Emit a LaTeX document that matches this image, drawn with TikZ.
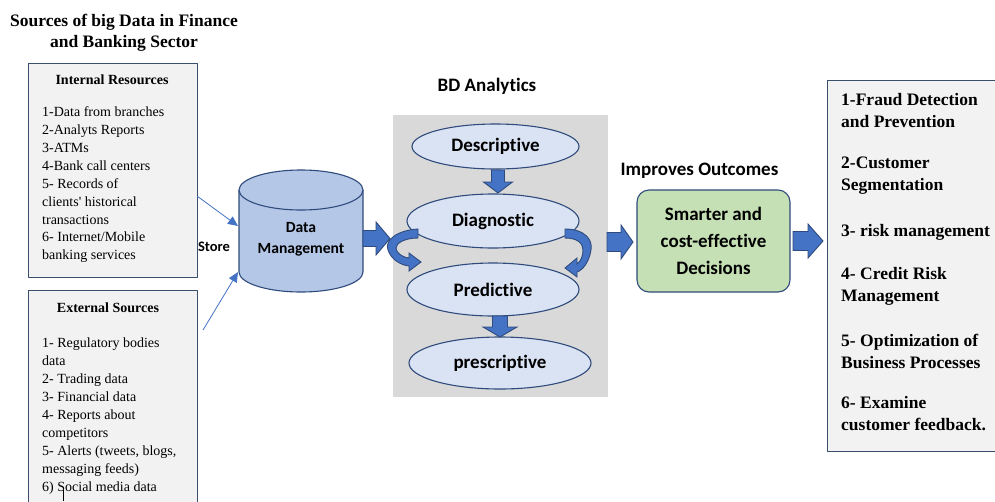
\documentclass[tikz,border=0pt]{standalone}
\usepackage{fontspec}
\setmainfont{Liberation Serif}[Ligatures=TeXOff]
\newfontfamily\calib[Ligatures={NoCommon,NoRare,NoContextual}]{Carlito}
\usetikzlibrary{arrows.meta,shapes.geometric}
\definecolor{boxfill}{HTML}{F2F2F2}
\definecolor{boxline}{HTML}{3B4E6B}
\definecolor{shapeline}{HTML}{2F4B7C}
\definecolor{arrowblue}{HTML}{4472C4}
\definecolor{ellfill}{HTML}{DAE3F3}
\definecolor{cylfill}{HTML}{B4C7E7}
\definecolor{greenfill}{HTML}{C5E0B4}
\definecolor{grayfill}{HTML}{D9D9D9}
% tail x, tail y, angle, length, head length, shaft half width, head half width
\newcommand\blockarrow[7]{\draw[barrow, shift={(#1,#2)}, rotate=#3] (0,-#6) -- ({#4-#5},-#6) -- ({#4-#5},-#7) -- (#4,0) -- ({#4-#5},#7) -- ({#4-#5},#6) -- (0,#6) -- cycle;}
\tikzset{
  srcbox/.style={draw=boxline, fill=boxfill, line width=1.1pt, inner sep=0pt, anchor=north west},
  itemtxt/.style={anchor=base west, inner sep=0pt, font=\fontsize{14}{18}\selectfont},
  boxtitle/.style={inner sep=0pt, font=\bfseries\fontsize{14}{18}\selectfont},
  outtxt/.style={anchor=west, inner sep=0pt, align=left, font=\bfseries\fontsize{17.5}{22}\selectfont},
  sanslabel/.style={inner sep=0pt, font=\calib\bfseries\fontsize{19}{23}\selectfont},
  ell/.style={ellipse, draw=shapeline, fill=ellfill, line width=1.1pt, inner sep=0pt, font=\calib\bfseries\fontsize{19}{23}\selectfont},
  barrow/.style={draw=shapeline, fill=arrowblue, line width=0.9pt, line join=miter},
  thinarrow/.style={draw=arrowblue, line width=0.8pt, -{Triangle[length=10pt,width=9pt]}},
}
\begin{document}
\begin{tikzpicture}[x=1pt, y=-1pt, line join=round]
\useasboundingbox (0,0) rectangle (995,501);
\fill[white] (0,0) rectangle (995,501);

% title
\node[align=center, inner sep=0pt, font=\bfseries\fontsize{17.5}{21}\selectfont] (title) at (124,32.5) {Sources of big Data in Finance\\and Banking Sector};

% internal resources box
\node[srcbox, minimum width=169pt, minimum height=214pt] (intbox) at (28,63) {};
\node[boxtitle] (inttitle) at (112,80) {Internal Resources};
\foreach \t [count=\i] in {1-Data from branches, 2-Analyts Reports, 3-ATMs, 4-Bank call centers, 5- Records of, {clients' historical}, transactions, 6- Internet/Mobile, banking services}
  \node[itemtxt] (int\i) at (42,{112+17.9*(\i-1)+4.6}) {\t};

% external sources box
\node[srcbox, minimum width=169pt, minimum height=220pt] (extbox) at (28,290) {};
\node[boxtitle] (exttitle) at (108,308) {External Sources};
\foreach \t [count=\i] in {1- Regulatory bodies, data, 2- Trading data, 3- Financial data, 4- Reports about, competitors, {5- Alerts (tweets, blogs,}, messaging feeds), 6) Social media data}
  \node[itemtxt] (ext\i) at (42,{343+18*(\i-1)+4.6}) {\t};
\draw[black, line width=0.6pt] (63,490) -- (63,501);

% cylinder
\fill[cylfill] (239,190) rectangle (363,272);
\fill[cylfill] (301,272) ellipse[x radius=62pt, y radius=20pt];
\draw[shapeline, line width=1.1pt] (239,190) -- (239,272) arc[start angle=180, end angle=360, x radius=62pt, y radius=20pt] -- (363,190);
\draw[shapeline, fill=cylfill, line width=1.1pt] (301,190) ellipse[x radius=62pt, y radius=20pt];
\node[align=center, inner sep=0pt, font=\calib\bfseries\fontsize{15.6}{21}\selectfont] (dm) at (301,239) {Data\\Management};
\node[inner sep=0pt, font=\calib\bfseries\fontsize{14.5}{17}\selectfont] (store) at (214,247) {Store};

% thin arrows
\coordinate (s1) at (197,196);
\coordinate (e1) at (238,226);
\coordinate (s2) at (203,330);
\coordinate (e2) at (238,272);
\draw[thinarrow] (s1) -- (e1);
\draw[thinarrow] (s2) -- (e2);

% analytics panel
\node[fill=grayfill, anchor=north west, minimum width=215pt, minimum height=282pt, inner sep=0pt] (bd) at (393,115) {};
\node[sanslabel] (bdl) at (487,86) {BD Analytics};

\node[ell, minimum width=167pt, minimum height=45pt] (desc) at (495.5,146.5) {Descriptive};
\node[ell, minimum width=172pt, minimum height=54pt] (diag) at (493,221) {Diagnostic};
\node[ell, minimum width=172pt, minimum height=53pt] (pred) at (493,289.5) {Predictive};
\node[ell, minimum width=182pt, minimum height=52pt] (pres) at (500,363) {prescriptive};

% curved arrows
\draw[barrow] (418,229) .. controls (398,230) and (384,240) .. (388,250) .. controls (391,259) and (400,265) .. (409,266) -- (409,271) -- (421,262) -- (409,253) -- (409,258) .. controls (401,257) and (396,252) .. (396,248) .. controls (396,243) and (405,238) .. (418,238) -- cycle;
\draw[barrow] (565,229) .. controls (585,229) and (593,240) .. (591,250) .. controls (589,262) and (583,270) .. (577,272) -- (577,277) -- (565,268) -- (577,258) -- (577,264) .. controls (581,261) and (583,256) .. (583,250) .. controls (583,243) and (577,238) .. (565,238) -- cycle;

% block arrows
\blockarrow{363}{238.5}{0}{27}{14}{8}{16.5}
\blockarrow{498}{170}{-90}{23}{11}{6.5}{14.5}
\blockarrow{500}{316}{-90}{21}{10}{7.5}{17}
\blockarrow{607}{242}{0}{26}{12}{9.5}{17}
\blockarrow{793}{241}{0}{30}{15}{9.5}{17}

% outcomes
\node[sanslabel] (imp) at (699.5,171) {Improves Outcomes};
\node[draw=shapeline, fill=greenfill, rounded corners=12pt, line width=1.1pt, minimum width=153pt, minimum height=102pt, inner sep=0pt, align=center, font=\calib\bfseries\fontsize{19}{27}\selectfont] (smart) at (713.5,241) {Smarter and\\cost-effective\\Decisions};

\node[srcbox, minimum width=170pt, minimum height=371pt] (outbox) at (827,80) {};
\node[outtxt] (o1) at (841,111) {1-Fraud Detection\\and Prevention};
\node[outtxt] (o2) at (841,176) {2-Customer\\Segmentation};
\node[outtxt] (o3) at (841,232) {3- risk management};
\node[outtxt] (o4) at (841,286.5) {4- Credit Risk\\Management};
\node[outtxt] (o5) at (841,351.5) {5- Optimization of\\Business Processes};
\node[outtxt] (o6) at (841,413.5) {6- Examine\\customer feedback.};
\end{tikzpicture}
\end{document}
